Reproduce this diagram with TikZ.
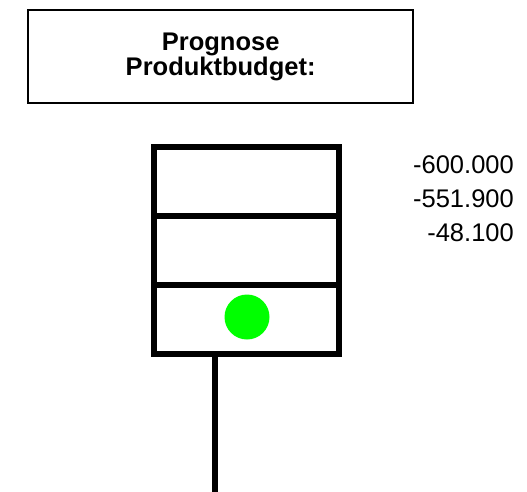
\documentclass[tikz,border=0pt]{standalone}
\usepackage{fontspec}
\setmainfont{Liberation Sans}
\usepackage{xcolor}
\usepackage{tikz}
\usetikzlibrary{positioning}

\definecolor{ampelgruen}{RGB}{0,255,0}

\begin{document}
\begin{tikzpicture}[
  x=1pt, y=-1pt,
  titel/.style={draw=black, line width=2pt, minimum width=384.7pt, minimum height=93pt, inner sep=0pt, align=center, font=\fontsize{25.5}{25}\selectfont\bfseries},
  zelle/.style={draw=black, line width=5.7pt, minimum width=185pt, minimum height=69pt, inner sep=0pt, outer sep=0pt},
  ampel/.style={circle, fill=ampelgruen, minimum size=45pt, inner sep=0pt},
  wert/.style={anchor=base east, inner sep=0pt, font=\fontsize{25.5}{30}\selectfont},
  stiel/.style={line width=5.3pt, draw=black}
]
  \useasboundingbox (0,0) rectangle (527,492);

  % Titel
  \node[titel] (titel) at (220.65,56.8) {\raisebox{-2pt}{Prognose}\\\raisebox{-2pt}{Produktbudget:}};

  % Ampel mit drei Feldern
  \node[zelle] (zelle1) at (246.5,181.5) {};
  \node[zelle, below=0pt of zelle1] (zelle2) {};
  \node[zelle, below=0pt of zelle2] (zelle3) {};
  \node[ampel] (punkt) at (247,317) {};

  % Stiel
  \coordinate (stielfuss) at (215,492);
  \draw[stiel] (stielfuss |- zelle3.south) -- (stielfuss);

  % Werte
  \node[wert] (wert1) at (514,173) {-600.000};
  \node[wert] (wert2) at (514,207) {-551.900};
  \node[wert] (wert3) at (514,241) {-48.100};
\end{tikzpicture}
\end{document}
